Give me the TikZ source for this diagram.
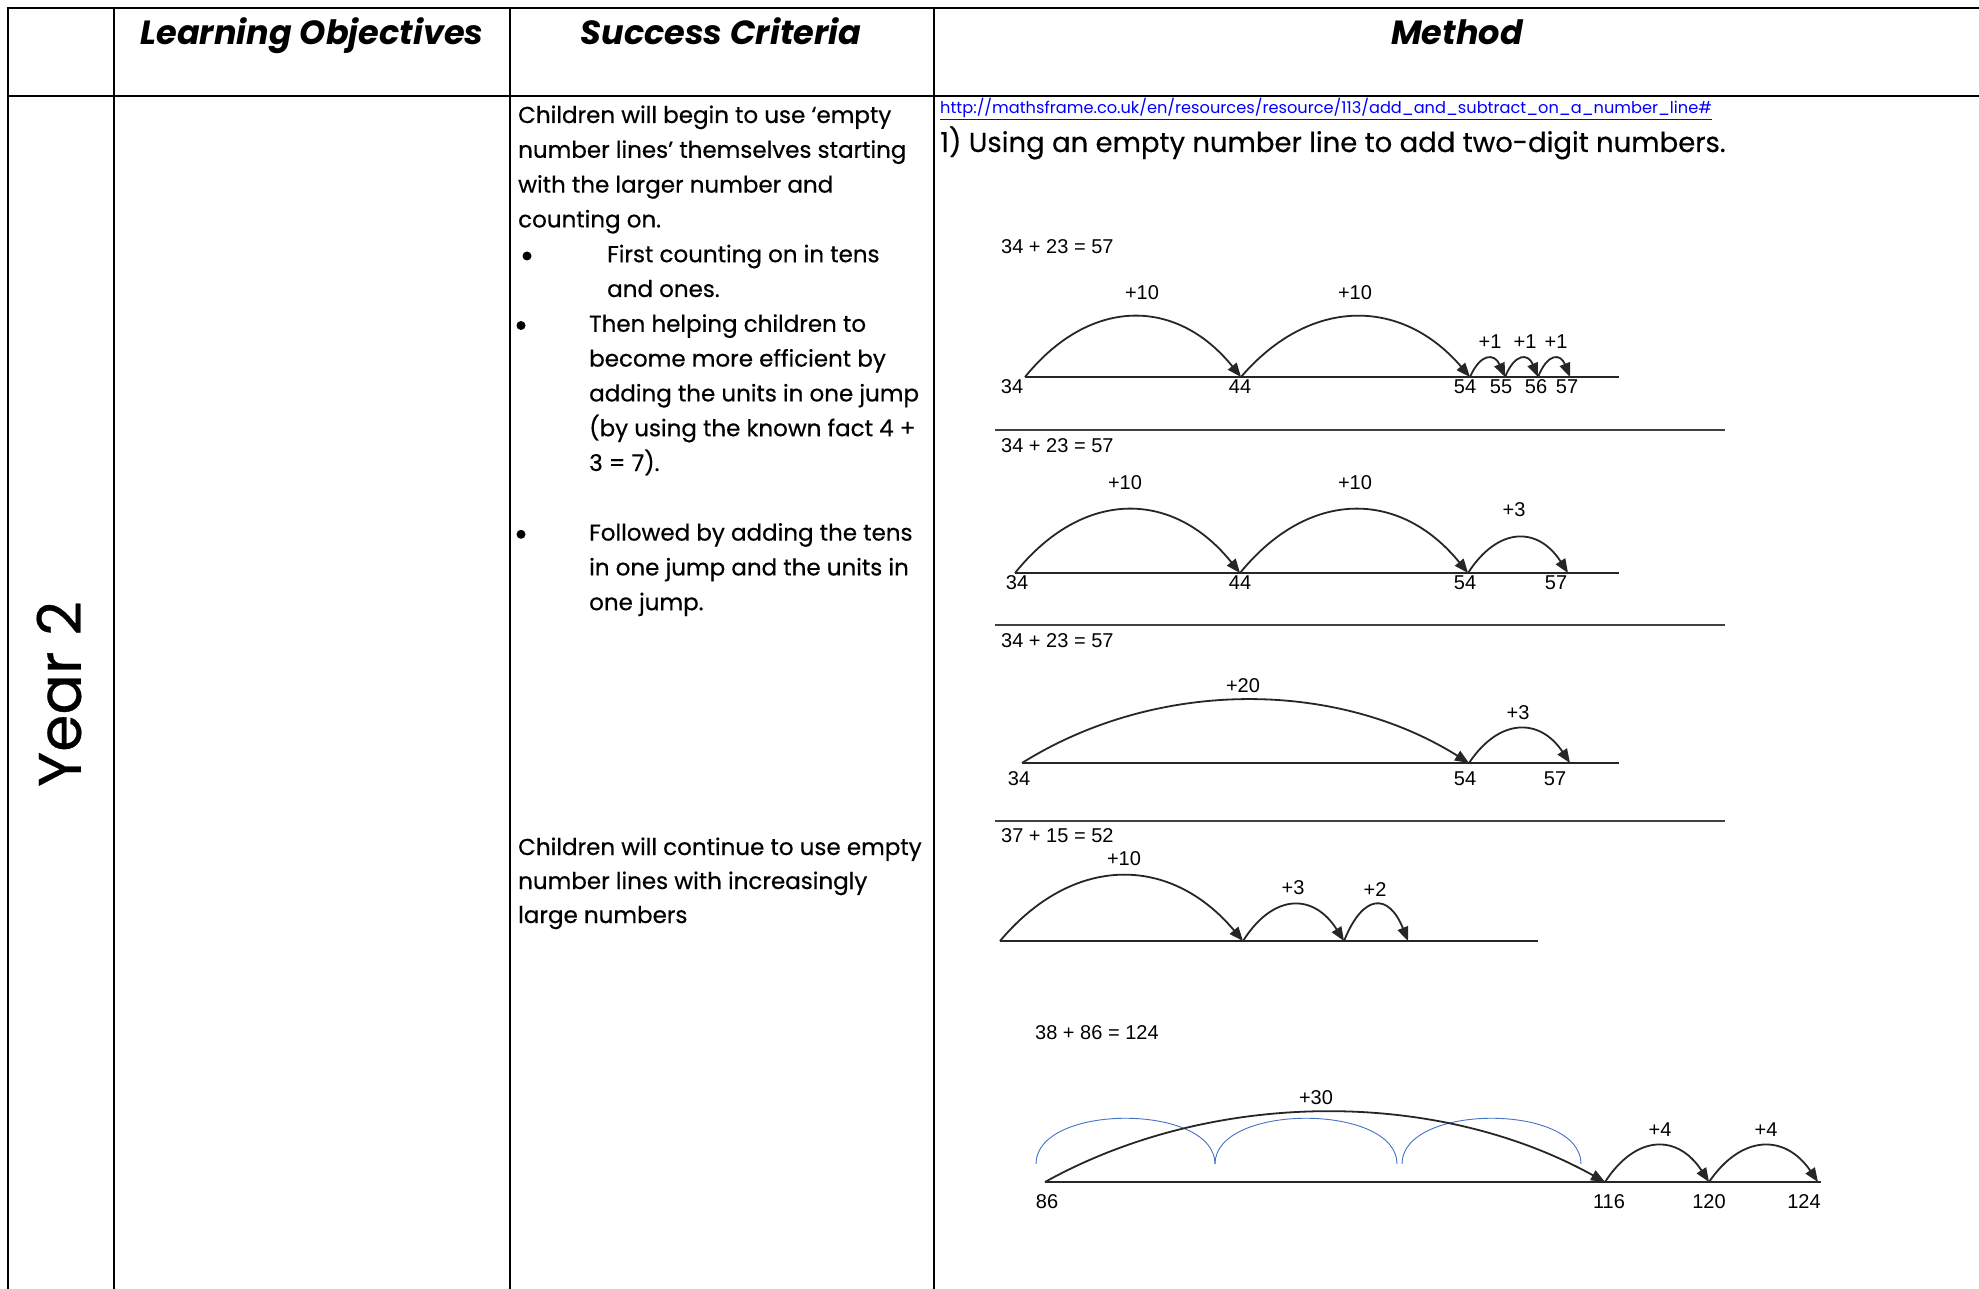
\documentclass[tikz,border=0pt]{standalone}
\usepackage{fontspec}
\setmainfont{Poppins}
\newfontfamily\bodyfont{Poppins}[FakeBold=0.5, Ligatures=TeX]
\newfontfamily\numfont{Liberation Sans}
\usetikzlibrary{arrows.meta}

% one jump on a number line: from, to, width, height
\newcommand\hop[4]{\draw[jump] (#1) .. controls +({0.3*#3},{-4/3*#4}) and +({-0.3*#3},{-4/3*#4}) .. (#2);}

\begin{document}
\begin{tikzpicture}[x=1pt,y=-1pt,
  tbl/.style={line width=2.4pt, line cap=rect},
  sep/.style={line width=1.6pt, draw=black!75},
  nline/.style={line width=1.7pt, draw=black!85},
  jump/.style={line width=1.8pt, draw=black!85, -{Triangle[length=14pt,width=11pt]}},
  bluearc/.style={line width=0.9pt, draw={rgb,255:red,68;green,114;blue,196}},
  hdr/.style={font=\fontsize{33.5}{40}\selectfont\bfseries\itshape, anchor=base, inner sep=0pt},
  body/.style={font=\bodyfont\fontsize{23}{28}\selectfont, anchor=base west, inner sep=0pt},
  dot/.style={circle, fill=black, inner sep=0pt, minimum size=9pt},
  num/.style={font=\numfont\fontsize{20}{24}\selectfont, inner sep=0pt},
  eqn/.style={font=\numfont\fontsize{20}{24}\selectfont, anchor=west, inner sep=0pt}
]
\useasboundingbox (0,0) rectangle (1979,1289);
\fill[white] (0,0) rectangle (1979,1289);

% table grid
\draw[tbl] (8,1289) -- (8,8) -- (1979,8);
\draw[tbl] (8,96) -- (1979,96);
\draw[tbl] (114,8) -- (114,1289);
\draw[tbl] (510,8) -- (510,1289);
\draw[tbl] (934,8) -- (934,1289);

% headings
\node[hdr] (hLO) at (312,45) {Learning Objectives};
\node[hdr] (hSC) at (721,45) {Success Criteria};
\node[hdr] (hM) at (1457,45) {Method};

% row label
\node[rotate=90, font=\bodyfont\fontsize{60}{70}\selectfont, inner sep=0pt] (yr) at (59,694) {Year 2};

% success criteria
\node[body] (s1) at (518,123) {Children will begin to use `empty};
\node[body] (s2) at (518,157.8) {number lines' themselves starting};
\node[body] (s3) at (518,192.6) {with the larger number and};
\node[body] (s4) at (518,227.4) {counting on.};
\node[dot] (d1) at (527,256) {};
\node[body] (s5) at (607,262.2) {First counting on in tens};
\node[body] (s6) at (607,297) {and ones.};
\node[dot] (d2) at (521,325.5) {};
\node[body] (s7) at (589,331.8) {Then helping children to};
\node[body] (s8) at (589,366.6) {become more efficient by};
\node[body] (s9) at (589,401.4) {adding the units in one jump};
\node[body] (s10) at (589,436.2) {(by using the known fact 4 +};
\node[body] (s11) at (589,471) {3 = 7).};
\node[dot] (d3) at (521,534.3) {};
\node[body] (s12) at (589,540.6) {Followed by adding the tens};
\node[body] (s13) at (589,575.4) {in one jump and the units in};
\node[body] (s14) at (589,610.2) {one jump.};
\node[body] (s15) at (518,855) {Children will continue to use empty};
\node[body] (s16) at (518,889) {number lines with increasingly};
\node[body] (s17) at (518,923) {large numbers};

% method heading lines
\node[anchor=base west, inner sep=0pt, text=blue, font=\fontsize{16.2}{19}\selectfont] (url) at (940,114)
  {\underline{http://mathsframe.co.uk/en/resources/resource/113/add\_and\_subtract\_on\_a\_number\_line\#}};
\node[anchor=base west, inner sep=0pt, font=\bodyfont\fontsize{27.5}{32}\selectfont] (title) at (940,152)
  {1) Using an empty number line to add two-digit numbers.};

% separators between the examples
\draw[sep] (995,430) -- (1725,430);
\draw[sep] (995,625) -- (1725,625);
\draw[sep] (995,821) -- (1725,821);

% example 1: tens then ones
\node[eqn] (e1) at (1001,247) {34 + 23 = 57};
\coordinate (p1a) at (1025,377);
\coordinate (p1b) at (1241,377);
\coordinate (p1c) at (1470,377);
\coordinate (p1d) at (1505,377);
\coordinate (p1e) at (1538,377);
\coordinate (p1f) at (1570,377);
\coordinate (p1z) at (1619,377);
\draw[nline] (p1a) -- (p1z);
\hop{p1a}{p1b}{216}{60}
\hop{p1b}{p1c}{229}{60}
\hop{p1c}{p1d}{35}{18}
\hop{p1d}{p1e}{33}{18}
\hop{p1e}{p1f}{32}{18}
\node[num] (j1a) at (1142,293) {+10};
\node[num] (j1b) at (1355,293) {+10};
\node[num] (j1c) at (1490,342) {+1};
\node[num] (j1d) at (1525,342) {+1};
\node[num] (j1e) at (1556,342) {+1};
\node[num] (n1a) at (1012,387) {34};
\node[num] (n1b) at (1240,387) {44};
\node[num] (n1c) at (1465,387) {54};
\node[num] (n1d) at (1501,387) {55};
\node[num] (n1e) at (1536,387) {56};
\node[num] (n1f) at (1567,387) {57};

% example 2: tens then the units in one jump
\node[eqn] (e2) at (1001,446) {34 + 23 = 57};
\coordinate (p2a) at (1015,573);
\coordinate (p2b) at (1240,573);
\coordinate (p2c) at (1468,573);
\coordinate (p2d) at (1568,573);
\coordinate (p2z) at (1619,573);
\draw[nline] (p2a) -- (p2z);
\hop{p2a}{p2b}{225}{63}
\hop{p2b}{p2c}{228}{63}
\hop{p2c}{p2d}{100}{35}
\node[num] (j2a) at (1125,483) {+10};
\node[num] (j2b) at (1355,483) {+10};
\node[num] (j2c) at (1514,510) {+3};
\node[num] (n2a) at (1017,583) {34};
\node[num] (n2b) at (1240,583) {44};
\node[num] (n2c) at (1465,583) {54};
\node[num] (n2d) at (1556,583) {57};

% example 3: tens in one jump, units in one jump
\node[eqn] (e3) at (1001,641) {34 + 23 = 57};
\coordinate (p3a) at (1022,763);
\coordinate (p3c) at (1469,763);
\coordinate (p3d) at (1570,763);
\coordinate (p3z) at (1619,763);
\draw[nline] (p3a) -- (p3z);
\hop{p3a}{p3c}{447}{63}
\hop{p3c}{p3d}{101}{34}
\node[num] (j3a) at (1243,686) {+20};
\node[num] (j3b) at (1518,713) {+3};
\node[num] (n3a) at (1019,779) {34};
\node[num] (n3c) at (1465,779) {54};
\node[num] (n3d) at (1555,779) {57};

% example 4: bridging through a ten
\node[eqn] (e4) at (1001,836) {37 + 15 = 52};
\coordinate (p4a) at (1000,941);
\coordinate (p4b) at (1243,941);
\coordinate (p4c) at (1344,941);
\coordinate (p4d) at (1408,941);
\coordinate (p4z) at (1538,941);
\draw[nline] (p4a) -- (p4z);
\hop{p4a}{p4b}{243}{65}
\hop{p4b}{p4c}{101}{36}
\hop{p4c}{p4d}{64}{36}
\node[num] (j4a) at (1124,859) {+10};
\node[num] (j4b) at (1293,888) {+3};
\node[num] (j4c) at (1375,890) {+2};

% example 5: larger numbers
\node[eqn] (e5) at (1035,1033) {38 + 86 = 124};
\coordinate (p5a) at (1045,1182);
\coordinate (p5b) at (1605,1182);
\coordinate (p5c) at (1709,1182);
\coordinate (p5d) at (1818,1182);
\coordinate (p5z) at (1821,1182);
\draw[nline] (p5a) -- (p5z);
\coordinate (q1) at (1036,1164);
\coordinate (q2) at (1215,1164);
\coordinate (q3) at (1397,1164);
\coordinate (q4) at (1402,1164);
\coordinate (q5) at (1581,1164);
\draw[bluearc] (q1) .. controls +(0,-61) and +(0,-61) .. (q2);
\draw[bluearc] (q2) .. controls +(0,-61) and +(0,-61) .. (q3);
\draw[bluearc] (q4) .. controls +(0,-61) and +(0,-61) .. (q5);
\hop{p5a}{p5b}{560}{70}
\hop{p5b}{p5c}{104}{36}
\hop{p5c}{p5d}{109}{36}
\node[num] (j5a) at (1316,1098) {+30};
\node[num] (j5b) at (1660,1130) {+4};
\node[num] (j5c) at (1766,1130) {+4};
\node[num] (n5a) at (1047,1202) {86};
\node[num] (n5b) at (1609,1202) {116};
\node[num] (n5c) at (1709,1202) {120};
\node[num] (n5d) at (1804,1202) {124};
\end{tikzpicture}
\end{document}
